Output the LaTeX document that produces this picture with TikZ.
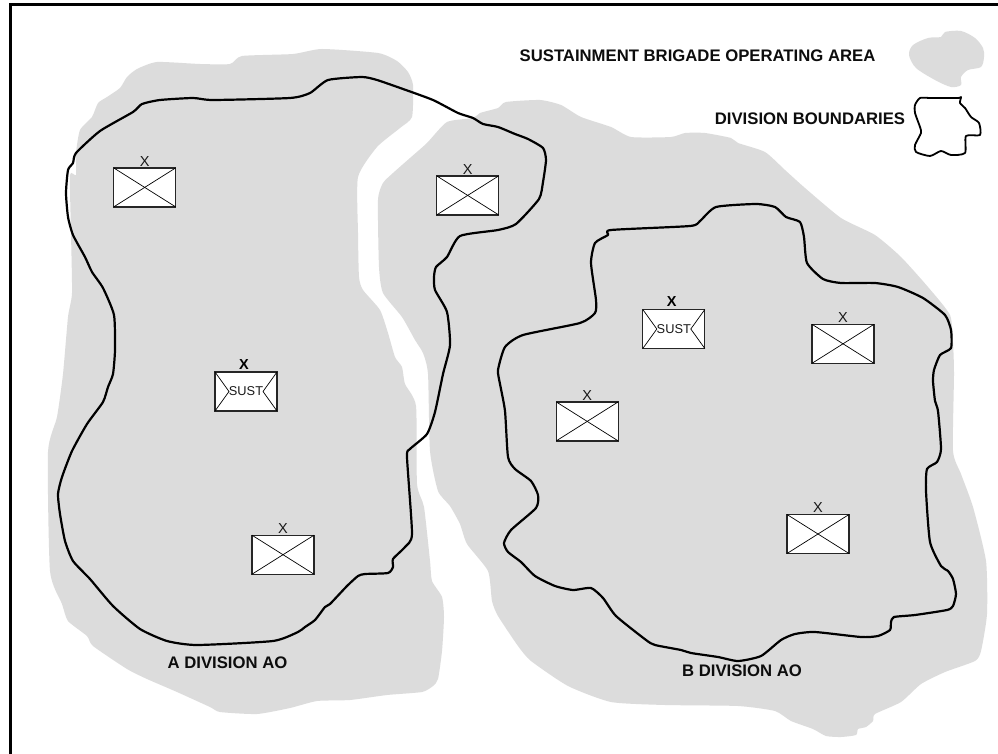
\documentclass[tikz,border=0pt]{standalone}
\usepackage{fontspec}
\setmainfont{Liberation Sans}
\definecolor{areagray}{HTML}{DCDCDC}
\tikzset{
  areafill/.style={fill=areagray,draw=none},
  bound/.style={draw=black,line width=2.2pt,line join=round},
  unitbox/.style={draw=black!85,line width=1.3pt,fill=white,minimum width=62pt,minimum height=39pt,inner sep=0pt,outer sep=0pt},
  crossline/.style={draw=black,line width=0.7pt},
  lab/.style={font=\fontsize{16.7}{19}\selectfont\bfseries,inner sep=0pt,text=black!95},
  echelon/.style={font=\fontsize{14.5}{16}\selectfont,inner sep=0pt,text=black!90},
  echelonb/.style={font=\fontsize{14.5}{16}\selectfont\bfseries,inner sep=0pt},
  susttext/.style={font=\fontsize{12.8}{14}\selectfont,inner sep=0pt,text=black!90}
}
\newcommand{\crossunit}[3]{%
  \node[unitbox] (#1) at (#2,#3) {};
  \draw[crossline] (#1.north west) -- (#1.south east);
  \draw[crossline] (#1.south west) -- (#1.north east);
  \node[echelon] (#1x) at (#2,#3-26.3) {X};
}
\newcommand{\sustunit}[3]{%
  \node[unitbox] (#1) at (#2,#3) {};
  \node[susttext] (#1t) at (#2,#3) {SUST};
  \coordinate (#1l) at ([xshift=14pt]#1.west);
  \coordinate (#1r) at ([xshift=-14pt]#1.east);
  \draw[crossline] (#1.north west) -- (#1l) -- (#1.south west);
  \draw[crossline] (#1.north east) -- (#1r) -- (#1.south east);
  \node[echelonb] (#1x) at (#2-2,#3-27) {X};
}
\begin{document}
\begin{tikzpicture}[x=1pt,y=-1pt]
\useasboundingbox (0,0) rectangle (998,754);
\fill[white] (0,0) rectangle (998,754);
% gray operating areas
\path[areafill] plot[smooth cycle,tension=0.35] coordinates {(127,77)(137,69)(157,62)(200,64)(230,64)(242,56)(293,54)(322,49)(378,53)(397,61)(408,72)(413,85)(412,117)(400,128)(377,147)(358,177)(358,233)(359,277)(363,290)(380,310)(388,333)(395,357)(402,367)(405,384)(416,406)(417,484)(424,507)(430,561)(432,581)(442,597)(444,617)(442,651)(438,679)(433,686)(422,692)(387,695)(350,700)(317,701)(290,708)(257,714)(220,712)(210,707)(177,692)(147,679)(127,669)(93,646)(87,636)(68,621)(62,604)(50,571)(48,452)(57,417)(63,374)(68,317)(72,293)(71,233)(70,175)(76,175)(76,153)(80,130)(92,117)(98,103)(107,97)(120,88)};
\path[areafill] plot[smooth cycle,tension=0.35] coordinates {(447,122)(473,118)(480,113)(498,108)(506,102)(540,100)(561,105)(581,117)(611,127)(631,137)(671,137)(685,133)(705,133)(731,138)(738,143)(765,152)(785,170)(805,188)(841,218)(875,235)(901,257)(928,287)(950,315)(953,343)(954,374)(953,451)(961,474)(973,507)(986,561)(987,614)(981,651)(975,661)(945,672)(921,684)(901,702)(875,714)(873,721)(866,727)(858,729)(856,735)(841,737)(826,736)(813,729)(791,721)(775,711)(738,706)(665,705)(611,702)(568,686)(531,661)(518,646)(498,616)(492,601)(488,571)(467,544)(460,524)(450,506)(438,491)(430,451)(428,374)(423,353)(415,340)(402,317)(383,293)(379,267)(378,200)(383,183)(393,173)(410,158)(427,143)};
\path[areafill] plot[smooth cycle,tension=0.5] coordinates {(909,55)(913,45)(928,38)(941,37)(945,32)(961,31)(975,38)(983,48)(984,57)(981,67)(968,70)(961,77)(961,85)(951,87)(935,80)(916,68)};
% division boundaries
\path[bound] plot[smooth cycle,tension=0.35] coordinates {(76,153)(100,131)(133,112)(142,104)(160,100)(193,98)(213,100)(290,98)(310,93)(328,80)(362,77)(377,80)(403,89)(433,100)(458,113)(473,118)(483,124)(498,127)(515,134)(528,139)(543,148)(546,160)(543,182)(539,199)(516,224)(498,230)(460,236)(447,257)(436,267)(434,277)(435,290)(447,312)(450,345)(443,374)(435,412)(427,434)(410,449)(407,457)(412,534)(405,547)(393,559)(393,567)(388,573)(365,574)(358,576)(347,586)(330,604)(325,607)(315,620)(305,627)(298,632)(273,641)(197,645)(167,641)(140,629)(113,606)(90,579)(73,561)(65,541)(60,514)(58,494)(62,477)(72,451)(87,424)(103,402)(108,387)(113,374)(115,350)(114,315)(103,288)(92,272)(85,257)(73,235)(68,217)(66,193)(68,170)(73,163)};
\path[bound] plot[smooth cycle,tension=0.35] coordinates {(611,230)(690,226)(700,221)(716,207)(756,204)(775,207)(786,217)(800,222)(804,237)(807,263)(823,279)(841,283)(875,283)(898,287)(923,298)(945,315)(951,330)(951,348)(940,355)(934,370)(933,381)(935,401)(938,411)(941,449)(937,462)(927,469)(926,491)(930,542)(941,566)(948,571)(953,579)(956,594)(953,606)(947,610)(915,615)(894,617)(891,622)(890,630)(878,636)(861,637)(815,632)(795,634)(781,640)(761,656)(738,661)(718,657)(691,653)(681,650)(655,645)(646,640)(616,616)(603,598)(591,588)(573,590)(555,586)(535,576)(521,562)(508,552)(504,543)(511,530)(536,508)(538,495)(531,481)(515,469)(508,457)(505,411)(500,384)(498,370)(505,347)(523,335)(580,323)(595,313)(596,300)(591,263)(595,243)(608,235)};
\path[bound,line width=1.8pt] plot[smooth cycle,tension=0.4] coordinates {(961,97)(960,103)(965,108)(971,117)(979,123)(980,135)(966,136)(965,153)(951,155)(941,151)(930,156)(916,152)(915,145)(921,133)(920,127)(915,113)(915,105)(920,98)(931,98)(958,98)};
% frame (runs off the page on the right and at the bottom)
\coordinate (frameTR) at (1000,4.7);
\coordinate (frameTL) at (10.5,4.7);
\coordinate (frameBL) at (10.5,756);
\draw[line width=2.8pt,line join=miter] (frameTR) -- (frameTL) -- (frameBL);
% units
\crossunit{ua}{144.7}{187.4}
\crossunit{ub}{467.7}{195.4}
\crossunit{uc}{283}{554.7}
\crossunit{ud}{843}{343.8}
\crossunit{ue}{587.2}{421.4}
\crossunit{uf}{818}{534}
\sustunit{sa}{246}{391.5}
\sustunit{sb}{673.8}{329}
% labels
\node[lab] (l1) at (697.5,56) {SUSTAINMENT BRIGADE OPERATING AREA};
\node[lab] (l2) at (810,119) {DIVISION BOUNDARIES};
\node[lab] (l3) at (227.5,663) {A DIVISION AO};
\node[lab] (l4) at (742,671) {B DIVISION AO};
\end{tikzpicture}
\end{document}
